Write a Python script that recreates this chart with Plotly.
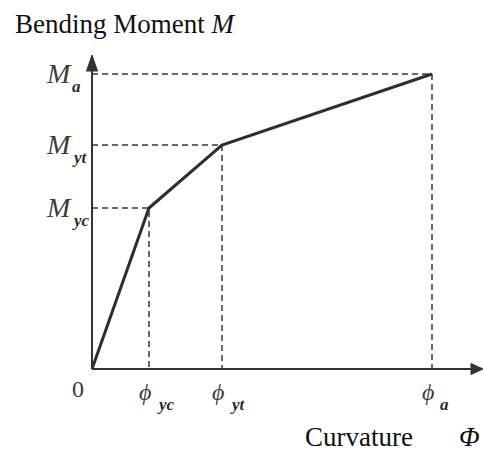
import plotly.graph_objects as go

# Moment-curvature relationship (trilinear idealisation)
point_names = ["yc", "yt", "a"]
curvature = [0.0, 0.57, 1.30, 3.40]
moment = [0.0, 1.61, 2.24, 2.95]

x_range = [-0.92, 3.91]
y_range = [-0.82, 3.69]
axis_top = 3.14
axis_right = 3.91

ink = "#333333"
label_ink = "#3c3c3c"
serif = "Liberation Serif, Times New Roman, serif"

fig = go.Figure()

# guide lines from each characteristic point to both axes
for phi, m in zip(curvature[1:], moment[1:]):
    fig.add_trace(go.Scatter(
        x=[0, phi, phi], y=[m, m, 0], mode="lines",
        line=dict(color="#3a3a3a", width=1.5, dash="6px,4px"),
        hoverinfo="skip", showlegend=False))

# axes with arrowheads
fig.add_shape(type="line", x0=0, y0=0, x1=0, y1=axis_top - 0.12,
              line=dict(color=ink, width=2))
fig.add_shape(type="line", x0=0, y0=0, x1=axis_right - 0.1, y1=0,
              line=dict(color=ink, width=2))
fig.add_shape(type="path",
              path=f"M -0.055 {axis_top - 0.16} L 0.055 {axis_top - 0.16} L 0 {axis_top} Z",
              fillcolor=ink, line=dict(color=ink, width=1))
fig.add_shape(type="path",
              path=f"M {axis_right - 0.12} -0.055 L {axis_right - 0.12} 0.055 L {axis_right} 0 Z",
              fillcolor=ink, line=dict(color=ink, width=1))

# the moment-curvature curve
fig.add_trace(go.Scatter(
    x=curvature, y=moment, mode="lines",
    line=dict(color="#2e2e2e", width=3),
    hoverinfo="skip", showlegend=False))


def label(x, y, text, size, anchor="center", color=label_ink):
    fig.add_annotation(x=x, y=y, xref="x", yref="y", text=text,
                       showarrow=False, xanchor=anchor, yanchor="middle",
                       font=dict(family=serif, size=size, color=color))


# moment labels on the vertical axis: M with a lowered subscript
for name, m in zip(point_names, moment[1:]):
    label(-0.18, m + 0.005, "<i>M</i>", 28, anchor="right")
    label(-0.22, m - 0.12, f"<i><b>{name}</b></i>", 17, anchor="left", color="#2a2a2a")

# curvature labels below the horizontal axis
label(-0.14, -0.20, "0", 24)
for name, phi in zip(point_names, curvature[1:]):
    label(phi - 0.04, -0.225, "<i>\u03d5</i>", 24)
    label(phi + 0.06, -0.35, f"<i><b>{name}</b></i>", 17, anchor="left", color="#2a2a2a")

# axis titles
label(-0.79, 3.45, "Bending Moment <i>M</i>", 27, anchor="left", color="#111111")
label(2.11, -0.68, "Curvature", 27, anchor="left", color="#111111")
label(3.65, -0.68, "<i>\u03a6</i>", 27, anchor="left", color="#111111")

fig.update_xaxes(range=x_range, visible=False, fixedrange=True)
fig.update_yaxes(range=y_range, visible=False, fixedrange=True)
fig.update_layout(
    width=483, height=451,
    margin=dict(l=0, r=0, t=0, b=0),
    paper_bgcolor="white", plot_bgcolor="white",
    showlegend=False,
)

fig.write_html("out.html")
